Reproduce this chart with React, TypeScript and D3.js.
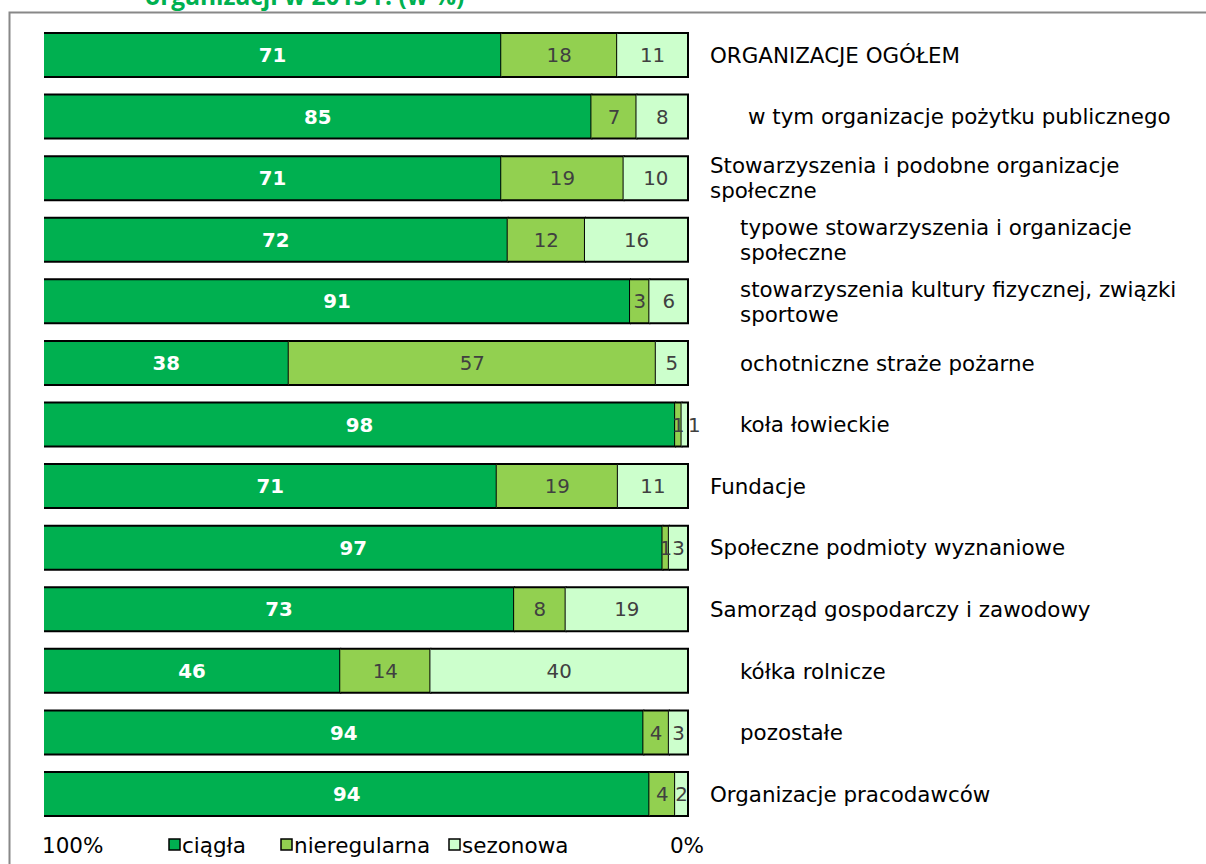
import React from "react";
import * as d3 from "d3";

const categories = [
  "ORGANIZACJE OGÓŁEM",
  "w tym organizacje pożytku publicznego",
  "Stowarzyszenia i podobne organizacje|społeczne",
  "typowe stowarzyszenia i organizacje|społeczne",
  "stowarzyszenia kultury fizycznej, związki|sportowe",
  "ochotniczne straże pożarne",
  "koła łowieckie",
  "Fundacje",
  "Społeczne podmioty wyznaniowe",
  "Samorząd gospodarczy i zawodowy",
  "kółka rolnicze",
  "pozostałe",
  "Organizacje pracodawców",
];
const indentLevels = [0, 2, 0, 1, 1, 1, 1, 0, 0, 0, 1, 1, 0];

const ciagla = [71, 85, 71, 72, 91, 38, 98, 71, 97, 73, 46, 94, 94];
const nieregularna = [18, 7, 19, 12, 3, 57, 1, 19, 1, 8, 14, 4, 4];
const sezonowa = [11, 8, 10, 16, 6, 5, 1, 11, 3, 19, 40, 3, 2];

const seriesNames = ["ciągła", "nieregularna", "sezonowa"];
const seriesColors = ["#00B050", "#92D050", "#CCFFCC"];
const axisLabels = ["100%", "0%"];
const titleText = "organizacji w 2015 r. (w %)";

const W = 1206;
const H = 864;

export default function App() {
  const rows = categories.map((c, i) => ({
    cat: c,
    ciagla: ciagla[i],
    nieregularna: nieregularna[i],
    sezonowa: sezonowa[i],
  }));
  const keys = ["ciagla", "nieregularna", "sezonowa"];
  const stack = d3.stack<any>().keys(keys).offset(d3.stackOffsetExpand);
  const series = stack(rows);

  const y = d3.scaleBand<string>().domain(categories).range([33, 816]).paddingInner(0.2855).paddingOuter(0);
  const x = d3.scaleLinear().domain([0, 1]).range([44, 688]);
  const bw = y.bandwidth();
  const indentX = [710, 740, 748];

  const labelFont = "'DejaVu Sans', Verdana, sans-serif";

  const valueLabels: any[] = [];
  rows.forEach((r, i) => {
    let prevX = -Infinity;
    keys.forEach((k, si) => {
      const seg = series[si][i];
      let cx = (x(seg[0]) + x(seg[1])) / 2;
      if (cx - prevX < 10) cx = prevX + 16;
      prevX = cx;
      valueLabels.push({ i, si, cx, v: (r as any)[k] });
    });
  });

  const legendX = [168, 280, 448];

  return (
    <div style={{ position: "absolute", left: 0, top: 0 }}>
      <svg width={W} height={H} style={{ display: "block", background: "#fff" }}>
        <text x={145} y={5} fontFamily="'Open Sans', sans-serif" fontWeight="bold" fontSize={24.5} fill="#00B050">
          {titleText}
        </text>
        <path d={`M9.5,${H} V12.5 H${W}`} fill="none" stroke="#888" strokeWidth={2} />
        {series.map((s, si) =>
          s.map((seg, i) => {
            const x0 = x(seg[0]);
            const x1 = x(seg[1]);
            const y0 = y(categories[i])!;
            return (
              <g key={`${si}-${i}`}>
                <rect x={x0} y={y0} width={Math.max(0, x1 - x0)} height={bw} fill={seriesColors[si]} />
                <path
                  d={`M${x0},${y0} H${x1} V${y0 + bw} H${x0}`}
                  fill="none"
                  stroke="#000"
                  strokeWidth={2}
                />
              </g>
            );
          })
        )}
        {valueLabels.map((l, k) => (
          <text
            key={k}
            x={l.cx}
            y={y(categories[l.i])! + bw / 2}
            dy="0.36em"
            textAnchor="middle"
            fontFamily={labelFont}
            fontSize={19.8}
            fontWeight={l.si === 0 ? "bold" : "normal"}
            fill={l.si === 0 ? "#fff" : "#404040"}
          >
            {l.v}
          </text>
        ))}
        {categories.map((c, i) => {
          const lines = c.split("|");
          const cy = y(c)! + bw / 2;
          const lh = 25;
          return (
            <text
              key={c}
              x={indentX[indentLevels[i]]}
              y={cy - ((lines.length - 1) * lh) / 2}
              fontFamily={labelFont}
              fontSize={21.4}
              fill="#000"
            >
              {lines.map((ln, j) => (
                <tspan key={j} x={indentX[indentLevels[i]]} dy={j === 0 ? "0.36em" : lh}>
                  {ln}
                </tspan>
              ))}
            </text>
          );
        })}
        <text x={42} y={853} fontFamily={labelFont} fontSize={21.5} fill="#000">
          {axisLabels[0]}
        </text>
        <text x={704} y={853} fontFamily={labelFont} fontSize={21.5} fill="#000" textAnchor="end">
          {axisLabels[1]}
        </text>
        {seriesNames.map((n, si) => {
          const lx = legendX[si];
          return (
            <g key={n}>
              <rect x={lx + 1} y={839} width={11} height={11} fill={seriesColors[si]} stroke="#000" strokeWidth={1.5} />
              <text x={lx + 14} y={853} fontFamily={labelFont} fontSize={21.5} fill="#000">
                {n}
              </text>
            </g>
          );
        })}
      </svg>
    </div>
  );
}
